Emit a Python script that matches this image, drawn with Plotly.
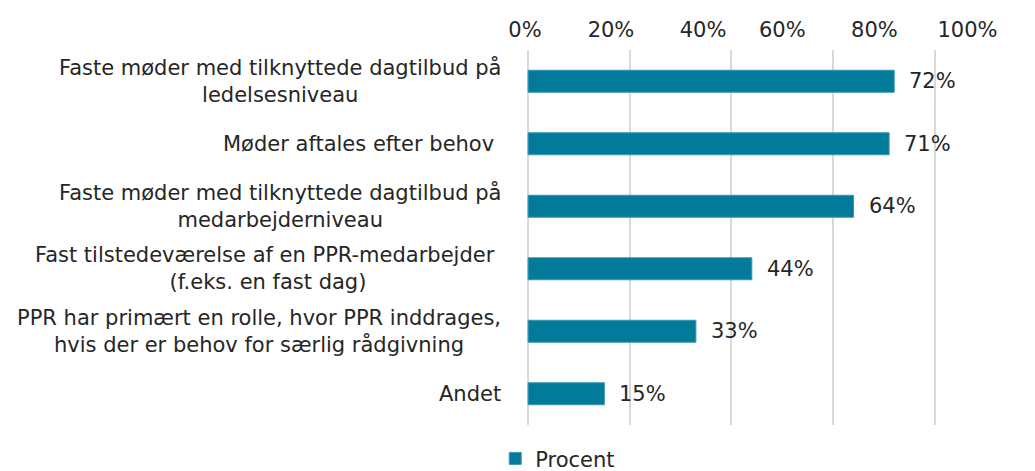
import plotly.graph_objects as go

categories = [
    "Faste møder med tilknyttede dagtilbud på<br>ledelsesniveau",
    "Møder aftales efter behov\u00a0",
    "Faste møder med tilknyttede dagtilbud på<br>medarbejderniveau",
    "Fast tilstedeværelse af en PPR-medarbejder\u00a0<br>(f.eks. en fast dag)",
    "PPR har primært en rolle, hvor PPR inddrages,<br>hvis der er behov for særlig rådgivning",
    "Andet",
]
values = [0.72, 0.71, 0.64, 0.44, 0.33, 0.15]
value_labels = ["72%", "71%", "64%", "44%", "33%", "15%"]
grid_vals = [0, 0.2, 0.4, 0.6, 0.8]
tick_labels = ["0%", "20%", "40%", "60%", "80%", "100%"]
tick_label_pos = [-0.006, 0.163, 0.344, 0.500, 0.681, 0.864]

BAR = "#027A9A"
TXT = "#262626"
FONT = "DejaVu Sans"
FS = 21

fig = go.Figure()
fig.add_trace(go.Bar(
    y=categories, x=values, orientation="h", name="Procent",
    marker=dict(color=BAR, line=dict(color="#3A98B2", width=1)),
    width=0.352, hoverinfo="skip",
))

ann = []
for c, v, t in zip(categories, values, value_labels):
    ann.append(dict(x=v, y=c, xref="x", yref="y", text=t, showarrow=False,
                    xanchor="left", xshift=13, font=dict(family=FONT, size=FS, color=TXT)))
    ann.append(dict(x=0, y=c, xref="paper", yref="y", text=c, showarrow=False,
                    xanchor="right", align="center", xshift=-20,
                    font=dict(family=FONT, size=FS, color=TXT)))

fig.update_layout(
    width=1027, height=463,
    margin=dict(l=515, r=49, t=42, b=46, autoexpand=False),
    paper_bgcolor="white", plot_bgcolor="white",
    font=dict(family=FONT, size=FS, color=TXT),
    showlegend=True,
    legend=dict(orientation="h", x=-0.06, xanchor="left", y=-0.09, yanchor="middle",
                font=dict(family=FONT, size=FS, color=TXT)),
    xaxis=dict(
        side="top", range=[-0.01, 0.9005], tickmode="array",
        tickvals=tick_label_pos, ticktext=tick_labels, showgrid=False,
        zeroline=False, showline=False, ticks="", ticklen=0, ticklabelstandoff=8,
        minor=dict(tickmode="array", tickvals=grid_vals, showgrid=True,
                   gridcolor="#D9D9D9", gridwidth=1.5, ticks=""),
        automargin=False, fixedrange=True,
    ),
    yaxis=dict(
        categoryorder="array", categoryarray=categories, autorange="reversed",
        showticklabels=False, showgrid=False, zeroline=False, showline=False,
        automargin=False, fixedrange=True,
    ),
    annotations=ann,
    bargap=0.5,
)

fig.write_html("out.html")
